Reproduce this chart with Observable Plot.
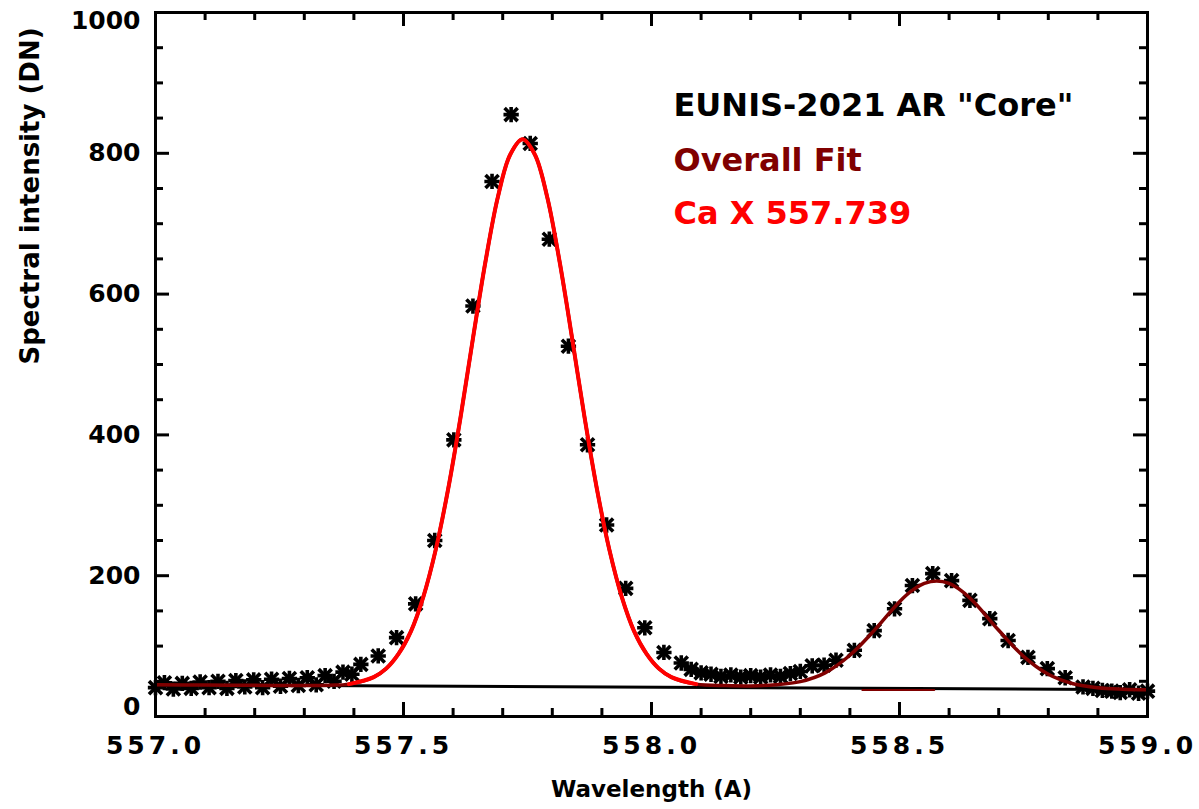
<!DOCTYPE html>
<html><head><meta charset="utf-8">
<script src="https://cdn.jsdelivr.net/npm/d3@7"></script>
<script src="https://cdn.jsdelivr.net/npm/@observablehq/plot@0.6"></script>
<style>
body{margin:0;background:#fff;}
#chart svg{display:block;}
</style>
</head><body><div id="chart"></div>
<script>
// ---- data ----
const pointWavelength = [557.000,557.018,557.036,557.054,557.072,557.090,557.108,557.126,557.144,557.162,557.180,557.198,557.216,557.234,557.252,557.270,557.288,557.306,557.324,557.342,557.360,557.378,557.396,557.414,557.449,557.486,557.5245,557.563,557.6015,557.640,557.6785,557.717,557.7555,557.794,557.8325,557.871,557.9095,557.948,557.9865,558.025,558.060,558.080,558.100,558.120,558.140,558.160,558.180,558.200,558.220,558.240,558.260,558.280,558.300,558.324,558.348,558.372,558.409,558.449,558.490,558.526,558.567,558.605,558.642,558.682,558.719,558.759,558.798,558.834,558.870,558.890,558.909,558.928,558.945,558.964,558.982,559.000];
const pointIntensity = [41,48,39,47,40,49,41,50,40,51,42,52,41,53,43,54,44,55,45,58,50,63,60,74,86,112,160,250,393,583,760,855,814,678,526,386,272,182,126,91,76,67,62,60,57,59,56,58,56,59,57,61,64,72,73,80,94,122,153,186,203,193,165,139,108,84,68,55,42,40,37,36,34,38,33,36];

const fitWavelength = [557.00,557.10,557.20,557.30,557.35,557.39,557.44,557.465,557.49,557.515,557.54,557.565,557.59,557.615,557.64,557.665,557.69,557.715,557.74,557.765,557.79,557.815,557.84,557.865,557.89,557.915,557.94,557.965,557.99,558.015,558.04,558.09,558.15,558.20,558.25,558.30,558.35,558.40,558.45,558.50,558.525,558.55,558.575,558.60,558.625,558.65,558.70,558.75,558.80,558.85,558.90,558.95,559.00];
const fitOverall = [45,44.6,44.3,44,44.5,46,56,68,89,121,170,237,323,425,537,645,737,798,820,798,737,645,537,425,323,237,170,121,89,68,56,46,44,43.5,45,49.5,62,87,123,163,178.7,189,192.5,189,178.5,162.6,122.5,85.5,60,46.6,40.9,38.8,38];

const caWavelength = [557.39,557.44,557.465,557.49,557.515,557.54,557.565,557.59,557.615,557.64,557.665,557.69,557.715,557.74,557.765,557.79,557.815,557.84,557.865,557.89,557.915,557.94,557.965,557.99,558.015,558.04,558.09];
const caFit = [46,56,68,89,121,170,237,323,425,537,645,737,798,820,798,737,645,537,425,323,237,170,121,89,68,56,46];

const baselineWavelength = [557.0, 559.0];
const baselineIntensity = [45, 38];
const secondWavelength = [558.425, 558.57];
const secondIntensity = [37.5, 37.5];

const xMajorTicks = [557.0, 557.5, 558.0, 558.5, 559.0];
const xMinorTicks = [557.1,557.2,557.3,557.4,557.6,557.7,557.8,557.9,558.1,558.2,558.3,558.4,558.6,558.7,558.8,558.9];
const yMajorTicks = [0, 200, 400, 600, 800, 1000];
const yMinorTicks = [50,100,150,250,300,350,450,500,550,650,700,750,850,900,950];

const legendLabels = ['EUNIS-2021 AR "Core"', "Overall Fit", "Ca X 557.739"];
const legendColors = ["#000000", "#800000", "#ff0000"];
const xLabel = "Wavelength (A)";
const yLabel = "Spectral intensity (DN)";

// ---- build ----
const W = 1199, H = 809, mL = 155, mR = 52, mT = 12, mB = 93;
const pw = W - mL - mR, ph = H - mT - mB;
const majorLen = 14, minorLen = 8;

const points = pointWavelength.map((x, i) => ({x, y: pointIntensity[i]}));
const overall = fitWavelength.map((x, i) => ({x, y: fitOverall[i]}));
const ca = caWavelength.map((x, i) => ({x, y: caFit[i]}));
const baseline = baselineWavelength.map((x, i) => ({x, y: baselineIntensity[i]}));
const second = secondWavelength.map((x, i) => ({x, y: secondIntensity[i]}));

const tickStyle = {stroke: "#000", strokeWidth: 3};
const yAxisCommon = {tickSize: 0, tickPadding: 15, fontSize: 25, fontWeight: "bold", label: null, tickFormat: d3.format("d")};

const plot = Plot.plot({
  width: W, height: H,
  marginLeft: mL, marginRight: mR, marginTop: mT, marginBottom: mB,
  x: {domain: [557, 559]},
  y: {domain: [0, 1000]},
  style: {fontFamily: "DejaVu Sans", fontWeight: "bold", background: "#fff", color: "#000"},
  marks: [
    Plot.dot(points, {x: "x", y: "y", symbol: "plus", r: 5, stroke: "#000", strokeWidth: 3.6}),
    Plot.dot(points, {x: "x", y: "y", symbol: "times", r: 6, stroke: "#000", strokeWidth: 3.6}),
    Plot.line(baseline, {x: "x", y: "y", stroke: "#000", strokeWidth: 3}),
    Plot.line(second, {x: "x", y: "y", stroke: "#800000", strokeWidth: 2}),
    Plot.line(overall, {x: "x", y: "y", stroke: "#800000", strokeWidth: 3.5, curve: "catmull-rom"}),
    Plot.line(ca, {x: "x", y: "y", stroke: "#ff0000", strokeWidth: 4, curve: "catmull-rom"}),
    // inward ticks on all four sides
    Plot.ruleX(xMajorTicks, {x: d => d, insetTop: ph - majorLen, ...tickStyle}),
    Plot.ruleX(xMajorTicks, {x: d => d, insetBottom: ph - majorLen, ...tickStyle}),
    Plot.ruleX(xMinorTicks, {x: d => d, insetTop: ph - minorLen, ...tickStyle}),
    Plot.ruleX(xMinorTicks, {x: d => d, insetBottom: ph - minorLen, ...tickStyle}),
    Plot.ruleY(yMajorTicks, {y: d => d, insetRight: pw - majorLen, ...tickStyle}),
    Plot.ruleY(yMajorTicks, {y: d => d, insetLeft: pw - majorLen, ...tickStyle}),
    Plot.ruleY(yMinorTicks, {y: d => d, insetRight: pw - minorLen, ...tickStyle}),
    Plot.ruleY(yMinorTicks, {y: d => d, insetLeft: pw - minorLen, ...tickStyle}),
    Plot.frame({stroke: "#000", strokeWidth: 3}),
    Plot.axisX({ticks: xMajorTicks, tickSize: 0, tickPadding: 20, tickFormat: d3.format(".1f"), fontSize: 25, fontWeight: "bold", label: null}),
    Plot.axisY({ticks: yMajorTicks.slice(1, -1), ...yAxisCommon}),
    Plot.axisY({ticks: yMajorTicks.slice(0, 1), dy: -10, ...yAxisCommon}),
    Plot.axisY({ticks: yMajorTicks.slice(-1), dy: 8, ...yAxisCommon}),
    Plot.text([xLabel], {frameAnchor: "bottom", dy: 80, fontSize: 23, fontWeight: "bold", fill: "#000"}),
    Plot.text([yLabel], {frameAnchor: "left", dx: -125, rotate: -90, fontSize: 26, fontWeight: "bold", fill: "#000"}),
    Plot.text([legendLabels[0]], {frameAnchor: "top-left", textAnchor: "start", lineAnchor: "middle", dx: 518, dy: 93, fontSize: 32, fontWeight: "bold", fill: legendColors[0]}),
    Plot.text([legendLabels[1]], {frameAnchor: "top-left", textAnchor: "start", lineAnchor: "middle", dx: 518, dy: 148, fontSize: 32, fontWeight: "bold", fill: legendColors[1]}),
    Plot.text([legendLabels[2]], {frameAnchor: "top-left", textAnchor: "start", lineAnchor: "middle", dx: 518, dy: 201, fontSize: 32, fontWeight: "bold", fill: legendColors[2]})
  ]
});
plot.querySelectorAll('g[aria-label="x-axis tick label"] text').forEach(t => { t.style.letterSpacing = "4px"; });
document.getElementById("chart").appendChild(plot);
</script>
</body></html>
